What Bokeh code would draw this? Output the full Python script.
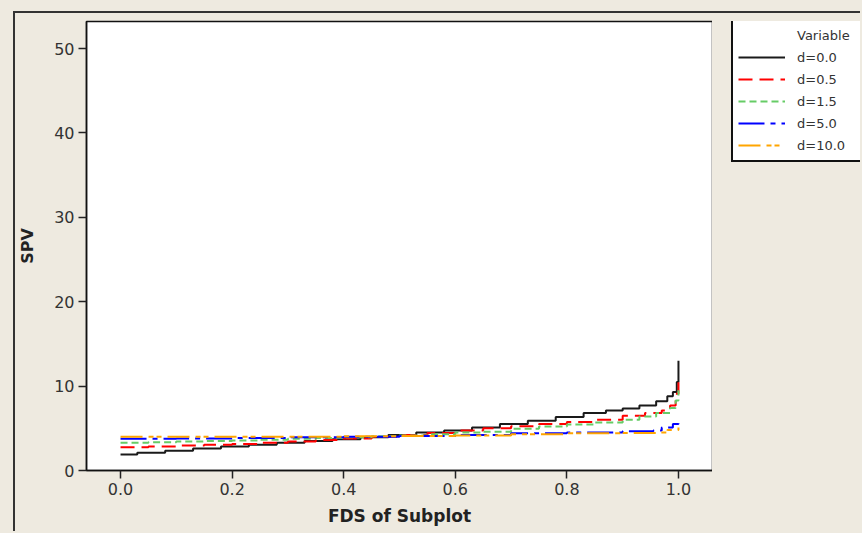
from bokeh.plotting import figure
from bokeh.models import (Legend, LegendItem, Range1d, FixedTicker,
                          NumeralTickFormatter)
from bokeh.layouts import column, row
from bokeh.embed import file_html
from bokeh.resources import INLINE

# ---------------- data ----------------
x_ticks = [0.0, 0.2, 0.4, 0.6, 0.8, 1.0]
y_ticks = [0, 10, 20, 30, 40, 50]

legend_title = "Variable"
series_labels = ["d=0.0", "d=0.5", "d=1.5", "d=5.0", "d=10.0"]

fds_d00 = [0.0, 0.03, 0.08, 0.13, 0.18, 0.23, 0.28, 0.33, 0.38, 0.43, 0.48, 0.53,
           0.58, 0.63, 0.68, 0.73, 0.78, 0.83, 0.87, 0.90, 0.93, 0.96, 0.98, 0.99,
           0.997, 1.0]
spv_d00 = [1.9, 2.1, 2.35, 2.6, 2.85, 3.05, 3.3, 3.5, 3.7, 3.95, 4.2, 4.5,
           4.75, 5.1, 5.5, 5.9, 6.35, 6.8, 7.1, 7.35, 7.7, 8.2, 8.8, 9.3,
           10.5, 13.0]

fds_d05 = [0.0, 0.05, 0.10, 0.15, 0.20, 0.25, 0.30, 0.35, 0.40, 0.45, 0.50, 0.55,
           0.60, 0.65, 0.70, 0.75, 0.80, 0.85, 0.90, 0.94, 0.97, 0.985, 0.995, 1.0]
spv_d05 = [2.75, 2.85, 2.95, 3.05, 3.15, 3.3, 3.45, 3.6, 3.8, 4.0, 4.2, 4.45,
           4.75, 5.0, 5.25, 5.5, 5.75, 6.0, 6.5, 6.8, 7.1, 7.7, 9.1, 10.8]

fds_d15 = [0.0, 0.05, 0.10, 0.15, 0.20, 0.25, 0.30, 0.35, 0.40, 0.45, 0.50, 0.55,
           0.60, 0.65, 0.70, 0.75, 0.80, 0.85, 0.90, 0.93, 0.96, 0.985, 0.995, 1.0]
spv_d15 = [3.3, 3.35, 3.45, 3.5, 3.55, 3.65, 3.75, 3.85, 3.95, 4.05, 4.15, 4.3,
           4.5, 4.6, 4.95, 5.2, 5.45, 5.7, 6.0, 6.4, 6.8, 7.4, 8.3, 9.5]

fds_d50 = [0.0, 0.10, 0.20, 0.30, 0.40, 0.50, 0.60, 0.70, 0.80, 0.90, 0.955,
           0.97, 0.99, 1.0]
spv_d50 = [3.75, 3.8, 3.85, 3.95, 4.0, 4.1, 4.2, 4.4, 4.5, 4.65, 4.75,
           5.1, 5.5, 5.6]

fds_d100 = [0.0, 0.20, 0.40, 0.50, 0.60, 0.70, 0.80, 0.90, 0.96, 0.98, 1.0]
spv_d100 = [4.0, 4.0, 4.05, 4.1, 4.15, 4.3, 4.4, 4.45, 4.5, 4.8, 5.1]

# ---------------- styling ----------------
FONT = "DejaVu Sans"
BG = "#EEEAE0"
EDGE = "2px solid #333333"

colors = ["#1a1a1a", "#FF0000", "#66CC66", "#0000FF", "#FFA500"]
dashes = ["solid", "14 7", "7 4", "26 6 5 6", "22 6 5 3 5 6"]
xs_all = [fds_d00, fds_d05, fds_d15, fds_d50, fds_d100]
ys_all = [spv_d00, spv_d05, spv_d15, spv_d50, spv_d100]

# ---------------- main plot ----------------
p = figure(width=699, height=520,
           x_range=Range1d(-0.061, 1.061), y_range=Range1d(0, 53.2),
           output_backend="svg", toolbar_location=None,
           min_border_left=71, min_border_right=2,
           min_border_top=8, min_border_bottom=63)
p.margin = (11, 0, 0, 13)
p.styles = {"border-top": EDGE, "border-left": EDGE}

p.background_fill_color = "white"
p.border_fill_color = BG
p.outline_line_color = "#111111"
p.outline_line_width = 1.5
p.xgrid.visible = False
p.ygrid.visible = False

p.xaxis.ticker = FixedTicker(ticks=x_ticks)
p.xaxis.formatter = NumeralTickFormatter(format="0.0")
p.yaxis.ticker = FixedTicker(ticks=y_ticks)

for ax in (p.xaxis, p.yaxis):
    ax.axis_line_color = "#111111"
    ax.axis_line_width = 1.5
    ax.major_tick_line_color = "#222222"
    ax.major_tick_line_width = 1.5
    ax.major_tick_out = 8
    ax.major_tick_in = 0
    ax.minor_tick_line_color = None
    ax.major_label_text_font = FONT
    ax.major_label_text_font_size = "16px"
    ax.major_label_text_color = "#333333"
    ax.axis_label_text_font = FONT
    ax.axis_label_text_font_style = "bold"
    ax.axis_label_text_color = "#222222"

p.xaxis.axis_label = "FDS of Subplot"
p.xaxis.axis_label_text_font_size = "17px"
p.xaxis.major_label_standoff = 4
p.xaxis.axis_label_standoff = 8
p.yaxis.axis_label = "SPV"
p.yaxis.axis_label_text_font_size = "16px"
p.yaxis.major_label_standoff = 4
p.yaxis.axis_label_standoff = 14

for xs, ys, c, d in zip(xs_all, ys_all, colors, dashes):
    p.step(xs, ys, mode="after", line_color=c, line_width=2, line_dash=d)

# ---------------- legend panel (separate canvas at the right) ----------------
# its frame is aligned with the main frame by the row layout (top 21, bottom 470)
pl = figure(width=148, height=520, x_range=Range1d(0, 1), y_range=Range1d(-2, -1),
            output_backend="svg", toolbar_location=None,
            x_axis_location=None, y_axis_location=None,
            min_border_left=0, min_border_right=0,
            min_border_top=0, min_border_bottom=0)
pl.margin = (11, 0, 0, 0)
pl.styles = {"border-top": EDGE}
pl.background_fill_color = BG
pl.border_fill_color = BG
pl.outline_line_color = None
pl.xgrid.visible = False
pl.ygrid.visible = False

header = pl.line([], [], line_alpha=0)
items = [LegendItem(label=legend_title, renderers=[header])]
for lab, xs, ys, c, d in zip(series_labels, xs_all, ys_all, colors, dashes):
    # same series, outside this panel's visible range: only used as legend keys
    key = pl.step(xs, ys, mode="after", line_color=c, line_width=2, line_dash=d)
    items.append(LegendItem(label=lab, renderers=[key]))

legend = Legend(items=items, location=(19, 308), margin=0,
                padding=5, spacing=2, glyph_width=47, glyph_height=20,
                label_height=20, label_standoff=12, label_width=90,
                label_text_font=FONT, label_text_font_size="13px",
                label_text_color="#333333",
                background_fill_color="white", background_fill_alpha=1.0,
                border_line_color="#111111", border_line_width=2,
                border_line_alpha=1.0)
pl.add_layout(legend, "center")

layout = column(row(p, pl), styles={"background-color": BG})
layout.width = 862
layout.height = 533

open("out.html", "w").write(file_html(layout, INLINE))
